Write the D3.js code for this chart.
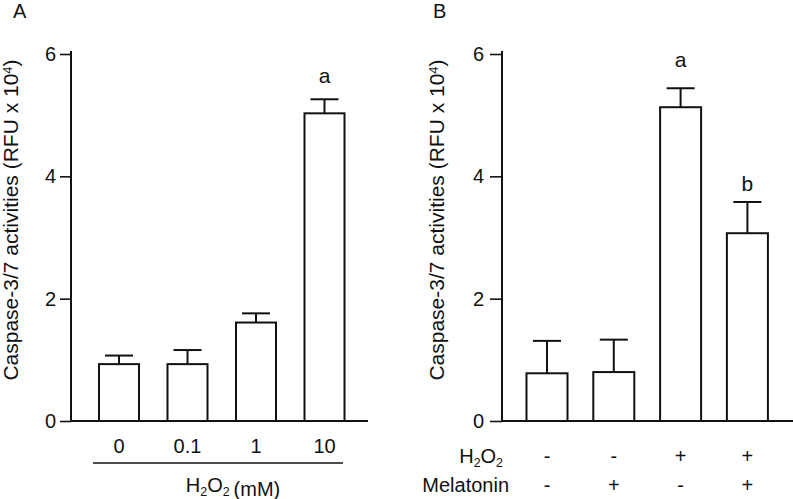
<!DOCTYPE html>
<html>
<head>
<meta charset="utf-8">
<script src="https://cdn.jsdelivr.net/npm/d3@7"></script>
<style>
  body { margin: 0; background: #fff; }
  svg text { font-family: "Liberation Sans", Arial, sans-serif; fill: #111; }
</style>
</head>
<body>
<svg id="chart" width="793" height="499"></svg>
<script>
// Panel A: H2O2 dose response
const doseLabels = ["0", "0.1", "1", "10"];
const doseMeans = [0.93, 0.93, 1.61, 5.03];
const doseErrors = [0.14, 0.23, 0.15, 0.23];
const doseMarks = ["", "", "", "a"];

// Panel B: H2O2 +/- melatonin
const treatH2O2 = ["-", "-", "+", "+"];
const treatMelatonin = ["-", "+", "-", "+"];
const treatMeans = [0.78, 0.80, 5.13, 3.07];
const treatErrors = [0.53, 0.53, 0.31, 0.51];
const treatMarks = ["", "", "a", "b"];

const yTicks = [0, 2, 4, 6];

const svg = d3.select("#chart");
const stroke = "#111";

const y = d3.scaleLinear().domain([0, 6]).range([421, 54]);

function drawPanel(opts) {
    const g = svg.append("g");
    const data = opts.means.map((m, i) => ({ i: i, mean: m, err: opts.errors[i], mark: opts.marks[i] }));

    const x = d3.scaleBand()
        .domain(d3.range(data.length))
        .range(opts.xRange)
        .paddingInner(opts.pad)
        .paddingOuter(opts.pad / 2);

    // y axis
    const yAxis = g.append("g")
        .attr("transform", `translate(${opts.axisX},0)`)
        .call(d3.axisLeft(y).tickValues(yTicks).tickFormat(d3.format("d"))
            .tickSize(opts.tickSize).tickSizeOuter(0).tickPadding(opts.tickPad));
    yAxis.select(".domain").attr("stroke", stroke).attr("stroke-width", 2)
        .attr("d", `M0,${y(0)}V${y(6) - 3}`);
    yAxis.selectAll(".tick line").attr("stroke", stroke).attr("stroke-width", 1.6);
    yAxis.selectAll(".tick text").attr("font-size", 20).attr("fill", "#111")
        .attr("font-family", "Liberation Sans, Arial, sans-serif");

    // x axis baseline
    g.append("line")
        .attr("x1", opts.axisX).attr("x2", opts.xEnd)
        .attr("y1", y(0)).attr("y2", y(0))
        .attr("stroke", stroke).attr("stroke-width", 2);

    // bars
    g.selectAll(".bar").data(data).enter().append("rect")
        .attr("class", "bar")
        .attr("x", d => x(d.i))
        .attr("y", d => y(d.mean))
        .attr("width", x.bandwidth())
        .attr("height", d => y(0) - y(d.mean))
        .attr("fill", "#fff")
        .attr("stroke", stroke)
        .attr("stroke-width", 2);

    // error bars (upper only)
    const cx = d => x(d.i) + x.bandwidth() / 2;
    g.selectAll(".err").data(data).enter().append("line")
        .attr("x1", cx).attr("x2", cx)
        .attr("y1", d => y(d.mean)).attr("y2", d => y(d.mean + d.err))
        .attr("stroke", stroke).attr("stroke-width", 2);
    g.selectAll(".cap").data(data).enter().append("line")
        .attr("x1", d => cx(d) - 14).attr("x2", d => cx(d) + 14)
        .attr("y1", d => y(d.mean + d.err)).attr("y2", d => y(d.mean + d.err))
        .attr("stroke", stroke).attr("stroke-width", 2);

    // significance letters
    g.selectAll(".mark").data(data.filter(d => d.mark)).enter().append("text")
        .attr("x", cx)
        .attr("y", d => y(d.mean + d.err) - opts.markGap(d))
        .attr("text-anchor", "middle")
        .attr("font-size", 21)
        .text(d => d.mark);

    // y label
    const yl = g.append("text")
        .attr("transform", `translate(${opts.labelX},220) rotate(-90)`)
        .attr("text-anchor", "middle")
        .attr("font-size", 21);
    yl.append("tspan").text("Caspase-3/7 activities (RFU x 10");
    yl.append("tspan").attr("font-size", 13).attr("dy", -6).text("4");
    yl.append("tspan").attr("dy", 6).text(")");

    // panel letter
    g.append("text")
        .attr("x", opts.letterX).attr("y", 18)
        .attr("font-size", 20)
        .text(opts.letter);

    return { g: g, x: x, cx: cx, data: data };
}

function h2o2(sel, size) {
    sel.append("tspan").text("H");
    sel.append("tspan").attr("font-size", size * 0.62).attr("dy", 4).text("2");
    sel.append("tspan").attr("dy", -4).text("O");
    sel.append("tspan").attr("font-size", size * 0.62).attr("dy", 4).text("2");
    sel.append("tspan").attr("dy", -4).text("");
    return sel;
}

// ---- Panel A
const pA = drawPanel({
    means: doseMeans, errors: doseErrors, marks: doseMarks,
    xRange: [84.75, 358.75], pad: 0.416,
    axisX: 71, xEnd: 368, tickSize: 11, tickPad: 4,
    labelX: 18, letter: "A", letterX: 13,
    markGap: () => 16
});

pA.g.selectAll(".cat").data(pA.data).enter().append("text")
    .attr("x", pA.cx).attr("y", 453)
    .attr("text-anchor", "middle")
    .attr("font-size", 20)
    .text(d => doseLabels[d.i]);

pA.g.append("line")
    .attr("x1", 93).attr("x2", 343).attr("y1", 463).attr("y2", 463)
    .attr("stroke", stroke).attr("stroke-width", 1.5);

const unitA = pA.g.append("text").attr("x", 233).attr("y", 492)
    .attr("text-anchor", "middle").attr("font-size", 20);
h2o2(unitA, 20);
unitA.append("tspan").attr("dx", 4).text("(mM)");

// ---- Panel B
const pB = drawPanel({
    means: treatMeans, errors: treatErrors, marks: treatMarks,
    xRange: [513.6, 780.8], pad: 0.386,
    axisX: 502, xEnd: 793, tickSize: 12, tickPad: 6,
    labelX: 444, letter: "B", letterX: 433,
    markGap: d => d.mark === "a" ? 21 : 11
});

pB.g.selectAll(".rowH").data(pB.data).enter().append("text")
    .attr("x", pB.cx).attr("y", 463)
    .attr("text-anchor", "middle").attr("font-size", 20)
    .text(d => treatH2O2[d.i]);
pB.g.selectAll(".rowM").data(pB.data).enter().append("text")
    .attr("x", pB.cx).attr("y", 492)
    .attr("text-anchor", "middle").attr("font-size", 20)
    .text(d => treatMelatonin[d.i]);

const rowH = pB.g.append("text").attr("x", 503).attr("y", 463)
    .attr("text-anchor", "end").attr("font-size", 20);
h2o2(rowH, 20);
pB.g.append("text").attr("x", 509).attr("y", 492)
    .attr("text-anchor", "end").attr("font-size", 20)
    .text("Melatonin");
</script>
</body>
</html>
